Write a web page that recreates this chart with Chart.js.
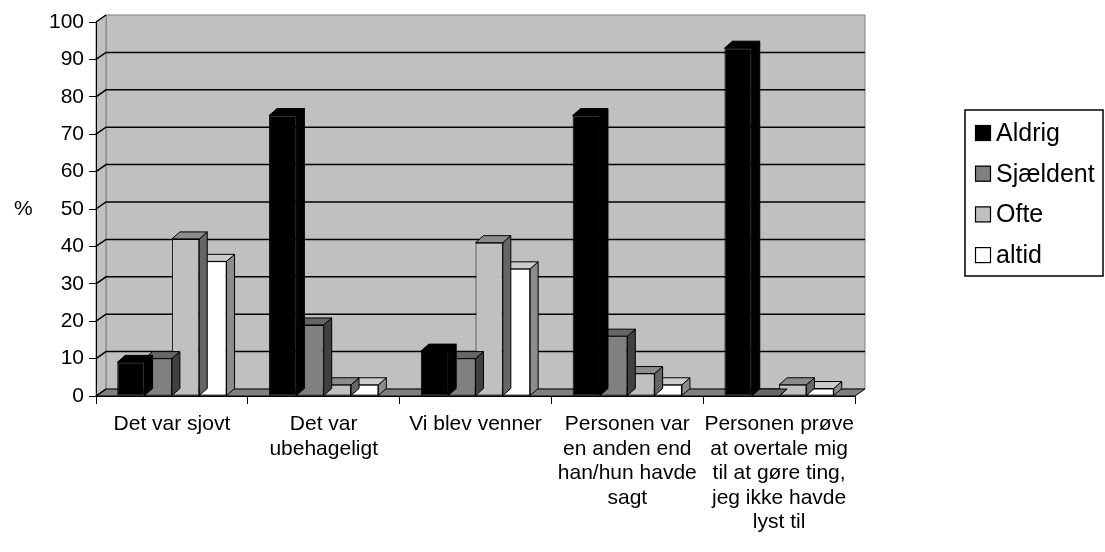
<!DOCTYPE html>
<html lang="da">
<head>
  <meta charset="UTF-8" />
  <title>Oplevelser</title>
  <script src="https://cdn.jsdelivr.net/npm/chart.js"></script>
  <style>
    html, body { margin: 0; padding: 0; background: #fff; }
    #wrap { width: 1105px; height: 552px; position: relative; }
  </style>
</head>
<body>
<div id="wrap"><canvas id="chart" width="1105" height="552"></canvas></div>

<script>
  // data
  const categories = [
    ['Det var sjovt'],
    ['Det var', 'ubehageligt'],
    ['Vi blev venner'],
    ['Personen var', 'en anden end', 'han/hun havde', 'sagt'],
    ['Personen prøve', 'at overtale mig', 'til at gøre ting,', 'jeg ikke havde', 'lyst til']
  ];
  const seriesNames = ['Aldrig', 'Sjældent', 'Ofte', 'altid'];
  const aldrig    = [9, 75, 12, 75, 93];
  const sjaeldent = [10, 19, 10, 16, 0];
  const ofte      = [42, 3, 41, 6, 3];
  const altid     = [36, 3, 34, 3, 2];
  const yTicks    = [0, 10, 20, 30, 40, 50, 60, 70, 80, 90, 100];

  const FONT = '"Liberation Sans", Arial, sans-serif';
  // front / top / side shades per series
  const shades = [
    { front: '#000000', top: '#000000', side: '#000000' },
    { front: '#808080', top: '#666666', side: '#404040' },
    { front: '#c0c0c0', top: '#8c8c8c', side: '#666666' },
    { front: '#ffffff', top: '#cccccc', side: '#8c8c8c' }
  ];
  const WALL_DX = 10, WALL_DY = 7;   // depth of the walls
  const BAR_DX = 8, BAR_DY = 7;      // depth of the columns

  function poly(ctx, pts, fill, stroke) {
    ctx.beginPath();
    ctx.moveTo(pts[0][0], pts[0][1]);
    for (let i = 1; i < pts.length; i++) ctx.lineTo(pts[i][0], pts[i][1]);
    ctx.closePath();
    if (fill) { ctx.fillStyle = fill; ctx.fill(); }
    if (stroke) { ctx.strokeStyle = stroke; ctx.lineWidth = 1; ctx.stroke(); }
  }

  // back wall, left wall, floor and gridlines
  const walls = {
    id: 'walls',
    beforeDraw(chart) {
      const { ctx, chartArea: a, scales: { y } } = chart;
      ctx.save();
      poly(ctx, [[a.left + WALL_DX, a.top - WALL_DY], [a.right + WALL_DX, a.top - WALL_DY],
                 [a.right + WALL_DX, a.bottom - WALL_DY], [a.left + WALL_DX, a.bottom - WALL_DY]], '#c0c0c0', '#808080');
      poly(ctx, [[a.left, a.top], [a.left + WALL_DX, a.top - WALL_DY],
                 [a.left + WALL_DX, a.bottom - WALL_DY], [a.left, a.bottom]], '#c0c0c0', '#808080');
      poly(ctx, [[a.left, a.bottom], [a.right, a.bottom],
                 [a.right + WALL_DX, a.bottom - WALL_DY], [a.left + WALL_DX, a.bottom - WALL_DY]], '#808080', '#000000');
      ctx.strokeStyle = '#000';
      ctx.lineWidth = 1.5;
      yTicks.forEach(v => {
        const py = y.getPixelForValue(v);
        ctx.beginPath();
        ctx.moveTo(a.left, py);
        ctx.lineTo(a.left + WALL_DX, py - WALL_DY);
        if (v > 0 && v < 100) ctx.lineTo(a.right + WALL_DX, py - WALL_DY);
        ctx.stroke();
      });
      ctx.restore();
    }
  };

  // top and side faces of each column, drawn just before its front
  const columns3d = {
    id: 'columns3d',
    beforeDatasetDraw(chart, args) {
      const { ctx } = chart;
      const s = shades[args.index];
      ctx.save();
      args.meta.data.forEach(bar => {
        const p = bar.getProps(['x', 'y', 'base', 'width'], true);
        const l = p.x - p.width / 2, r = p.x + p.width / 2;
        const t = Math.min(p.y, p.base);
        poly(ctx, [[r, t], [r + BAR_DX, t - BAR_DY], [r + BAR_DX, p.base - BAR_DY], [r, p.base]], s.side, '#000');
        poly(ctx, [[l, t], [r, t], [r + BAR_DX, t - BAR_DY], [l + BAR_DX, t - BAR_DY]], s.top, '#000');
      });
      ctx.restore();
    }
  };

  // "%" title and boxed legend
  const extras = {
    id: 'extras',
    afterDraw(chart) {
      const { ctx, scales: { y } } = chart;
      ctx.save();
      ctx.fillStyle = '#000';
      ctx.font = '21px ' + FONT;
      ctx.textBaseline = 'middle';
      ctx.fillText('%', 14, y.getPixelForValue(50));

      const bx = 965, by = 110, bw = 138, bh = 166;
      ctx.fillStyle = '#fff';
      ctx.fillRect(bx, by, bw, bh);
      ctx.strokeStyle = '#000';
      ctx.lineWidth = 1.5;
      ctx.strokeRect(bx, by, bw, bh);
      ctx.font = '25px ' + FONT;
      chart.data.datasets.forEach((ds, i) => {
        const cy = by + 23 + i * 40.7;
        ctx.fillStyle = ds.backgroundColor;
        ctx.fillRect(bx + 10, cy - 8, 16, 16);
        ctx.lineWidth = 1.2;
        ctx.strokeStyle = '#000';
        ctx.strokeRect(bx + 10.5, cy - 7.5, 15, 15);
        ctx.fillStyle = '#000';
        ctx.fillText(ds.label, bx + 31, cy + 1);
      });
      ctx.restore();
    }
  };

  const seriesValues = [aldrig, sjaeldent, ofte, altid];

  new Chart(document.getElementById('chart'), {
    type: 'bar',
    data: {
      labels: categories,
      datasets: seriesNames.map((name, i) => ({
        label: name,
        data: seriesValues[i],
        backgroundColor: shades[i].front,
        borderColor: '#000',
        borderWidth: 1,
        borderSkipped: false,
        barPercentage: 1,
        categoryPercentage: 0.72
      }))
    },
    options: {
      responsive: false,
      animation: false,
      layout: { padding: { left: 0, top: 22, right: 250, bottom: 0 } },
      plugins: { legend: { display: false }, tooltip: { enabled: false } },
      scales: {
        x: {
          offset: true,
          grid: { offset: true, drawOnChartArea: false, drawTicks: true, tickLength: 8, color: '#000' },
          border: { display: true, color: '#000', width: 1 },
          ticks: {
            color: '#000', maxRotation: 0, autoSkip: false, padding: 8,
            font: { family: FONT, size: 21, lineHeight: '24.5px' }
          },
          afterFit(scale) { scale.height = 156; }
        },
        y: {
          min: 0, max: 100,
          grid: { drawOnChartArea: false, drawTicks: true, tickLength: 7, color: '#000' },
          border: { display: true, color: '#000', width: 1 },
          ticks: {
            stepSize: 10, color: '#000', padding: 5,
            font: { family: FONT, size: 21 }
          },
          afterFit(scale) { scale.width = 96; }
        }
      }
    },
    plugins: [walls, columns3d, extras]
  });
</script>
</body>
</html>
